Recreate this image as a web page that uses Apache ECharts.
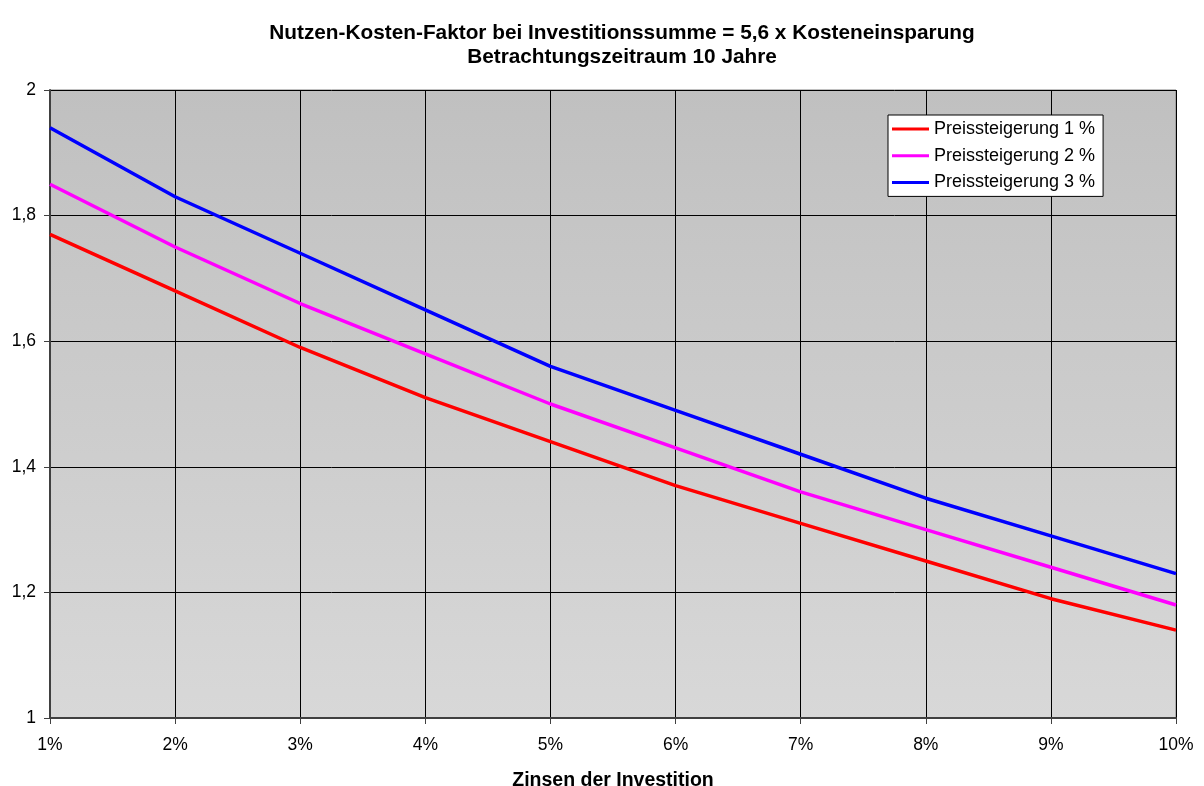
<!DOCTYPE html>
<html>
<head>
<meta charset="utf-8">
<script src="https://cdn.jsdelivr.net/npm/echarts@6/dist/echarts.min.js"></script>
<style>
html,body{margin:0;padding:0;background:#fff;}
#main{width:1204px;height:786px;}
</style>
</head>
<body>
<div id="main"></div>
<script>
const categories = ['1%','2%','3%','4%','5%','6%','7%','8%','9%','10%'];
const seriesNames = ['Preissteigerung 1 %','Preissteigerung 2 %','Preissteigerung 3 %'];
const preis1 = [1.77,1.68,1.59,1.51,1.44,1.37,1.31,1.25,1.19,1.14];
const preis2 = [1.85,1.75,1.66,1.58,1.50,1.43,1.36,1.30,1.24,1.18];
const preis3 = [1.94,1.83,1.74,1.65,1.56,1.49,1.42,1.35,1.29,1.23];
const titleText = 'Nutzen-Kosten-Faktor bei Investitionssumme = 5,6 x Kosteneinsparung\nBetrachtungszeitraum 10 Jahre';
const xAxisName = 'Zinsen der Investition';

const chart = echarts.init(document.getElementById('main'), null, {renderer:'canvas'});
const font = 'Liberation Sans, Arial, sans-serif';
const colors = ['#ff0000','#ff00ff','#0000ff'];
const data = [preis1, preis2, preis3];

chart.setOption({
  animation:false,
  textStyle:{fontFamily:font},
  title:{
    text:titleText,
    left:622, top:21, textAlign:'center', padding:0,
    textStyle:{fontFamily:font,fontSize:20.8,fontWeight:'bold',color:'#000',lineHeight:24}
  },
  legend:{
    orient:'vertical',
    left:888, top:115,
    backgroundColor:'#fff',
    borderColor:'#000', borderWidth:1,
    padding:[4,8,4,4],
    itemWidth:37, itemHeight:3, itemGap:6.7,
    icon:'rect',
    textStyle:{fontFamily:font,fontSize:18,color:'#000',lineHeight:20},
    data:seriesNames
  },
  grid:{
    left:50, right:28, top:90, bottom:68,
    outerBoundsMode:'none',
    containLabel:false,
    show:true,
    borderColor:'#808080', borderWidth:1,
    backgroundColor:new echarts.graphic.LinearGradient(0,0,0,1,[{offset:0,color:'#c0c0c0'},{offset:1,color:'#d8d8d8'}])
  },
  xAxis:{
    type:'category', data:categories, boundaryGap:false,
    name:xAxisName, nameLocation:'middle', nameGap:53,
    nameTextStyle:{fontFamily:font,fontSize:19.5,fontWeight:'bold',color:'#000'},
    axisLine:{lineStyle:{color:'#404040',width:2}},
    axisTick:{show:true,length:6,lineStyle:{color:'#404040'}},
    axisLabel:{fontFamily:font,fontSize:17.5,color:'#000',margin:18},
    splitLine:{show:true,lineStyle:{color:'#000',width:1}}
  },
  yAxis:{
    type:'value', min:1, max:2, interval:0.2,
    axisLine:{show:true,lineStyle:{color:'#404040',width:2}},
    axisTick:{show:true,length:6,lineStyle:{color:'#404040'}},
    axisLabel:{fontFamily:font,fontSize:17.5,color:'#000',margin:14,
      formatter:v=>String(Math.round(v*10)/10).replace('.',',')},
    splitLine:{show:true,lineStyle:{color:'#000',width:1}}
  },
  series:seriesNames.map((n,i)=>({
    name:n, type:'line', data:data[i], showSymbol:false, symbol:'none',
    lineStyle:{color:colors[i],width:3.5}, itemStyle:{color:colors[i]}
  }))
});
</script>
</body>
</html>
